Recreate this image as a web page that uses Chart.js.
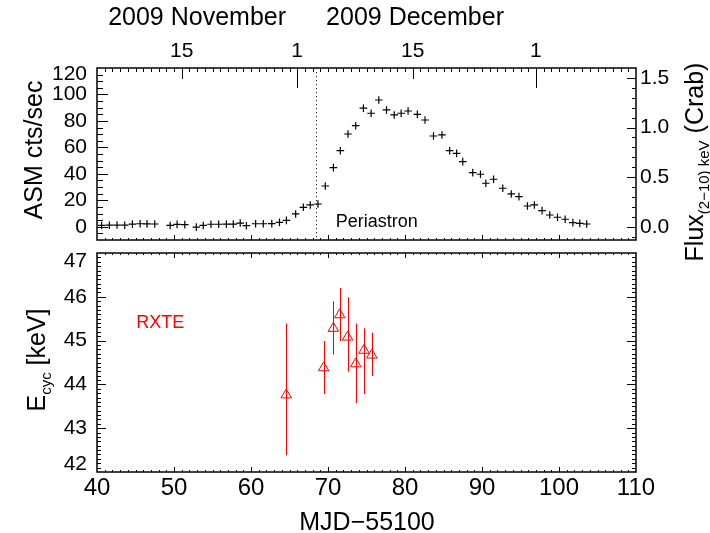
<!DOCTYPE html>
<html><head><meta charset="utf-8">
<script src="https://cdn.jsdelivr.net/npm/chart.js@4.4.1/dist/chart.umd.min.js"></script>
<style>
html,body{margin:0;padding:0;background:#fff;width:710px;height:533px;overflow:hidden;position:relative}
canvas{position:absolute;left:0;display:block}
#c1{top:0}
#c2{top:246px}
</style></head><body>
<canvas id="c1" width="710" height="290"></canvas>
<canvas id="c2" width="710" height="287"></canvas>
<script>
// ---------- data (MJD-55100) ----------
const asmDay = [40.6,41.6,42.6,43.6,44.6,45.6,46.5,47.5,49.5,50.4,51.4,52.9,53.8,54.8,55.8,56.8,57.7,58.6,59.4,60.6,61.6,62.7,63.7,64.6,65.8,66.8,67.7,68.7,69.65,70.7,71.6,72.6,73.6,74.6,75.6,76.6,77.6,78.6,79.5,80.4,81.6,82.6,83.7,84.8,85.8,86.7,87.5,88.8,89.8,90.5,91.5,92.7,93.8,94.8,95.9,96.8,97.8,98.8,99.8,100.8,101.8,102.7,103.6];
const asmRate = [1.0,1.2,1.3,1.2,2.0,2.3,2.2,2.1,1.0,1.8,1.6,-0.3,1.0,1.9,1.9,2.0,2.0,2.8,0.8,2.3,2.3,2.4,3.3,4.8,9.7,14.7,16.5,17.2,30.8,44.7,57.5,70.1,76.4,89.6,85.8,95.8,88.3,84.5,85.8,87.5,85.0,80.7,68.6,69.4,57.5,55.5,49.2,40.9,39.7,32.9,35.9,29.1,24.8,22.8,15.7,16.5,12.2,8.9,7.2,5.7,3.1,2.6,2.1];
const ecycDay  = [64.57,69.44,70.69,71.52,72.54,73.61,74.68,75.70];
const ecycVal  = [43.76,44.38,45.28,45.59,45.08,44.47,44.78,44.67];
const ecycHigh = [45.39,44.99,45.90,46.20,45.99,45.39,45.28,45.18];
const ecycLow  = [42.38,43.78,44.68,44.99,44.29,43.57,43.78,44.19];

const xTicks = [40,50,60,70,80,90,100,110];
const dateTickDays = [51,66,81,97];
const dateTickLabels = ['15','1','15','1'];
const monthLabelDays = [53.0,81.3];
const monthLabels = ['2009 November','2009 December'];
const asmTicks = [0,20,40,60,80,100,120];
const fluxTicks = [0,0.5,1.0,1.5];
const ecycTicks = [42,43,44,45,46,47];
const CRAB_RATE = 75;          // ASM cts/s per Crab
const periastronDay = 68.44;

// ---------- helpers ----------
const FONT = "'Liberation Sans', Arial, Helvetica, sans-serif";
Chart.defaults.font.family = FONT;
Chart.defaults.color = '#000';

function range(a, b, step, div) { const r = []; for (let k = a; k <= b; k += step) r.push(div ? k / div : k); return r; }
function noPad(s) { s.paddingTop = 0; s.paddingBottom = 0; s.paddingLeft = 0; s.paddingRight = 0; }

function drawRich(ctx, cx, cy, rot, segs) {
  ctx.save(); ctx.translate(cx, cy); ctx.rotate(rot);
  let total = 0;
  for (const s of segs) { ctx.font = s.size + 'px ' + FONT; s.w = ctx.measureText(s.t).width; total += s.w; }
  let x = -total / 2;
  const base = segs[0].size * 0.716 / 2;
  ctx.textAlign = 'left'; ctx.textBaseline = 'alphabetic'; ctx.fillStyle = '#000';
  for (const s of segs) { ctx.font = s.size + 'px ' + FONT; ctx.fillText(s.t, x, base + (s.dy || 0)); x += s.w; }
  ctx.restore();
}

const idlAxes = {
  id: 'idlAxes',
  afterDatasetsDraw(chart, args, opts) {
    const ctx = chart.ctx, a = chart.chartArea;
    ctx.save();
    ctx.strokeStyle = '#000'; ctx.lineWidth = 1;
    for (const t of opts.ticks) {
      const sc = chart.scales[t.scale];
      for (const v of t.values) {
        if (v <= sc.min + 1e-9 || v >= sc.max - 1e-9) continue;
        const p = Math.round(sc.getPixelForValue(v)) + 0.5;
        ctx.beginPath();
        if (t.edge === 'bottom') { ctx.moveTo(p, a.bottom); ctx.lineTo(p, a.bottom - t.len); }
        else if (t.edge === 'top') { ctx.moveTo(p, a.top); ctx.lineTo(p, a.top + t.len); }
        else if (t.edge === 'left') { ctx.moveTo(a.left, p); ctx.lineTo(a.left + t.len, p); }
        else { ctx.moveTo(a.right, p); ctx.lineTo(a.right - t.len, p); }
        ctx.stroke();
      }
    }
    ctx.lineWidth = 1.5;
    ctx.strokeRect(a.left, a.top, a.right - a.left, a.bottom - a.top);
    ctx.restore();
  },
  afterDraw(chart, args, opts) {
    if (opts.after) opts.after(chart);
  }
};

const xMinor = range(41, 109, 1).filter(v => v % 10 !== 0);
const xMajor = range(50, 100, 10);

// ---------- top panel ----------
new Chart(document.getElementById('c1'), {
  type: 'scatter',
  data: { datasets: [{
    data: asmDay.map((d, i) => ({ x: d, y: asmRate[i] })),
    pointStyle: 'cross', pointRadius: 3.8, borderColor: '#000', backgroundColor: '#000', borderWidth: 1.2,
    showLine: false, xAxisID: 'x', yAxisID: 'y'
  }]},
  options: {
    responsive: false, animation: false, events: [], devicePixelRatio: 1,
    layout: { padding: { left: 0, right: 0, top: 0, bottom: 50 } },
    plugins: {
      legend: { display: false }, tooltip: { enabled: false },
      idlAxes: {
        ticks: [
          { scale: 'x', edge: 'bottom', values: xMinor, len: 2 },
          { scale: 'x', edge: 'bottom', values: xMajor, len: 5 },
          { scale: 'xd', edge: 'top', values: range(41, 109, 1), len: 4 },
          { scale: 'xd', edge: 'top', values: [51, 81], len: 11 },
          { scale: 'xd', edge: 'top', values: [66, 97], len: 20 },
          { scale: 'y', edge: 'left', values: range(-5, 115, 5).filter(v => v % 20 !== 0), len: 6 },
          { scale: 'y', edge: 'left', values: range(0, 100, 20), len: 11 },
          { scale: 'y2', edge: 'right', values: range(-1, 16, 1, 10).filter(v => Math.abs(v * 2 - Math.round(v * 2)) > 1e-6), len: 4 },
          { scale: 'y2', edge: 'right', values: fluxTicks, len: 9 }
        ],
        after(chart) {
          const ctx = chart.ctx, a = chart.chartArea, sx = chart.scales.x, sy = chart.scales.y;
          ctx.save();
          const px = Math.round(sx.getPixelForValue(periastronDay)) + 0.5;
          ctx.strokeStyle = '#222'; ctx.lineWidth = 1; ctx.setLineDash([1.2, 2.8]);
          ctx.beginPath(); ctx.moveTo(px, a.top); ctx.lineTo(px, a.bottom); ctx.stroke();
          ctx.setLineDash([]);
          ctx.fillStyle = '#000'; ctx.font = '18px ' + FONT; ctx.textAlign = 'left'; ctx.textBaseline = 'middle';
          ctx.fillText('Periastron', sx.getPixelForValue(71.0), sy.getPixelForValue(3.4));
          ctx.restore();
          drawRich(ctx, 33, 150, -Math.PI / 2, [{ t: 'ASM cts/sec', size: 25 }]);
          drawRich(ctx, 694, 162, -Math.PI / 2, [
            { t: 'Flux', size: 25 }, { t: '(2\u221210) keV', size: 15, dy: 6 }, { t: ' (Crab)', size: 25 }
          ]);
        }
      }
    },
    scales: {
      x: { type: 'linear', position: 'bottom', min: 40, max: 110, display: false },
      xd: {
        type: 'linear', position: 'top', min: 40, max: 110, weight: 0,
        grid: { display: false, drawTicks: false }, border: { display: false },
        afterBuildTicks: s => { s.ticks = dateTickDays.map(v => ({ value: v })); },
        ticks: { autoSkip: false, maxRotation: 0, minRotation: 0, padding: 4, font: { size: 21 },
                 callback: (v, i) => dateTickLabels[i] },
        afterFit: s => { s.height = 34; noPad(s); }
      },
      xm: {
        type: 'linear', position: 'top', min: 40, max: 110, weight: 1,
        grid: { display: false, drawTicks: false }, border: { display: false },
        afterBuildTicks: s => { s.ticks = monthLabelDays.map(v => ({ value: v })); },
        ticks: { autoSkip: false, maxRotation: 0, minRotation: 0, padding: 1, font: { size: 25 },
                 callback: (v, i) => monthLabels[i] },
        afterFit: s => { s.height = 34; noPad(s); }
      },
      y: {
        type: 'linear', position: 'left', min: -10, max: 120,
        grid: { display: false, drawTicks: false }, border: { display: false },
        afterBuildTicks: s => { s.ticks = asmTicks.map(v => ({ value: v })); },
        ticks: { autoSkip: false, padding: 10, font: { size: 21, lineHeight: '13px' },
                 callback: v => (v === 120 ? ['', '120'] : String(v)) },
        afterFit: s => { s.width = 97; noPad(s); }
      },
      y2: {
        type: 'linear', position: 'right', min: -10 / CRAB_RATE, max: 120 / CRAB_RATE,
        grid: { display: false, drawTicks: false }, border: { display: false },
        afterBuildTicks: s => { s.ticks = fluxTicks.map(v => ({ value: v })); },
        ticks: { autoSkip: false, padding: 4, font: { size: 21 }, callback: v => v.toFixed(1) },
        afterFit: s => { s.width = 74; noPad(s); }
      }
    }
  },
  plugins: [idlAxes]
});

// ---------- bottom panel ----------
const errorBars = {
  id: 'errorBars',
  beforeDatasetsDraw(chart) {
    const ctx = chart.ctx, sx = chart.scales.x, sy = chart.scales.y;
    ctx.save(); ctx.strokeStyle = '#ff0000'; ctx.lineWidth = 1;
    ecycDay.forEach((d, i) => {
      const px = Math.round(sx.getPixelForValue(d)) + 0.5;
      ctx.beginPath(); ctx.moveTo(px, sy.getPixelForValue(ecycHigh[i])); ctx.lineTo(px, sy.getPixelForValue(ecycLow[i])); ctx.stroke();
    });
    ctx.restore();
  }
};

new Chart(document.getElementById('c2'), {
  type: 'scatter',
  data: { datasets: [{
    data: ecycDay.map((d, i) => ({ x: d, y: ecycVal[i] })),
    pointStyle: 'triangle', pointRadius: 6, borderColor: '#ff0000', backgroundColor: 'rgba(0,0,0,0)', borderWidth: 1,
    showLine: false
  }]},
  options: {
    responsive: false, animation: false, events: [], devicePixelRatio: 1,
    layout: { padding: { left: 0, right: 74, top: 6, bottom: 0 } },
    plugins: {
      legend: { display: false }, tooltip: { enabled: false },
      idlAxes: {
        ticks: [
          { scale: 'x', edge: 'bottom', values: xMinor, len: 2 },
          { scale: 'x', edge: 'bottom', values: xMajor, len: 5 },
          { scale: 'x', edge: 'top', values: xMinor, len: 2 },
          { scale: 'x', edge: 'top', values: xMajor, len: 5 },
          { scale: 'y', edge: 'left', values: range(421, 469, 1, 10).filter(v => Math.abs(v - Math.round(v)) > 1e-6), len: 4 },
          { scale: 'y', edge: 'left', values: [43, 44, 45, 46], len: 9 },
          { scale: 'y', edge: 'right', values: range(421, 469, 1, 10).filter(v => Math.abs(v - Math.round(v)) > 1e-6), len: 4 },
          { scale: 'y', edge: 'right', values: [43, 44, 45, 46], len: 9 }
        ],
        after(chart) {
          const ctx = chart.ctx, sx = chart.scales.x, sy = chart.scales.y;
          ctx.save();
          ctx.fillStyle = '#ff0000'; ctx.font = '18px ' + FONT; ctx.textAlign = 'left'; ctx.textBaseline = 'middle';
          ctx.fillText('RXTE', sx.getPixelForValue(45.1), sy.getPixelForValue(45.4));
          ctx.restore();
          drawRich(ctx, 36, 114, -Math.PI / 2, [
            { t: 'E', size: 25 }, { t: 'cyc', size: 15, dy: 6 }, { t: ' [keV]', size: 25 }
          ]);
          drawRich(ctx, 367, 275, 0, [{ t: 'MJD\u221255100', size: 25 }]);
        }
      }
    },
    scales: {
      x: {
        type: 'linear', position: 'bottom', min: 40, max: 110,
        grid: { display: false, drawTicks: false }, border: { display: false },
        afterBuildTicks: s => { s.ticks = xTicks.map(v => ({ value: v })); },
        ticks: { autoSkip: false, maxRotation: 0, minRotation: 0, padding: 2, font: { size: 24, lineHeight: 1.2 } },
        afterFit: s => { s.height = 61; noPad(s); }
      },
      y: {
        type: 'linear', position: 'left', min: 42, max: 47,
        grid: { display: false, drawTicks: false }, border: { display: false },
        afterBuildTicks: s => { s.ticks = ecycTicks.map(v => ({ value: v })); },
        ticks: { autoSkip: false, padding: 10, font: { size: 21, lineHeight: '16px' },
                 callback: v => (v === 47 ? ['', '47'] : v === 42 ? ['42', ''] : String(v)) },
        afterFit: s => { s.width = 97; noPad(s); }
      }
    }
  },
  plugins: [idlAxes, errorBars]
});
</script>
</body></html>
